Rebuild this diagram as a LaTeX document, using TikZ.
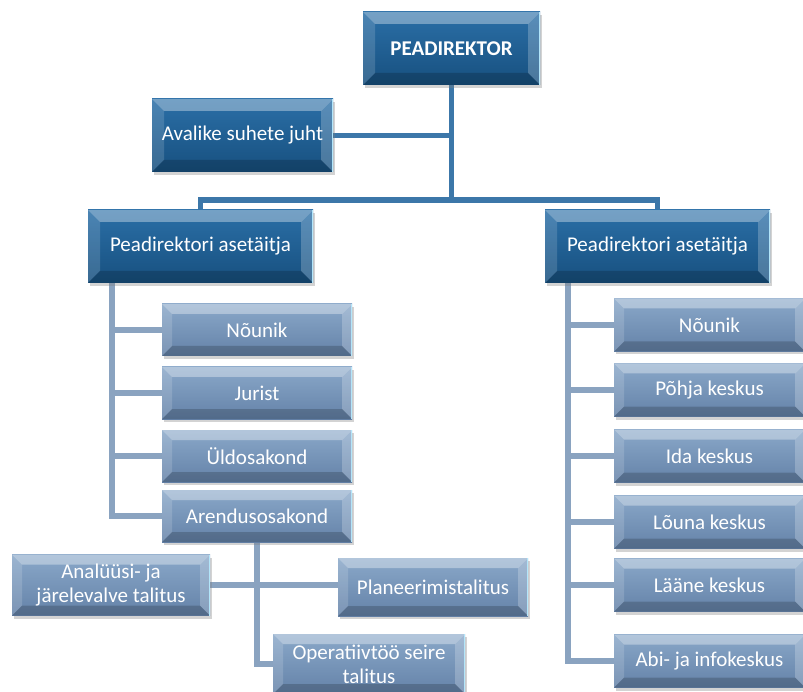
\documentclass[tikz,border=0pt]{standalone}
\usepackage{fontspec}
\setmainfont{Carlito}
\usetikzlibrary{shadows,backgrounds}
\definecolor{dkA}{HTML}{2B6FA7}
\definecolor{dkB}{HTML}{17507F}
\definecolor{ltA}{HTML}{8AA8C9}
\definecolor{ltB}{HTML}{6482A8}
\definecolor{toplinecol}{HTML}{3C77A9}
\definecolor{sublinecol}{HTML}{8AA3C0}
\tikzset{
  bevel/.style={path picture={
    \fill[white,opacity=.35] (path picture bounding box.north west) -- (path picture bounding box.north east) -- ([shift={(-#1,-#1)}]path picture bounding box.north east) -- ([shift={(#1,-#1)}]path picture bounding box.north west) -- cycle;
    \fill[white,opacity=.15] (path picture bounding box.north west) -- (path picture bounding box.south west) -- ([shift={(#1,#1)}]path picture bounding box.south west) -- ([shift={(#1,-#1)}]path picture bounding box.north west) -- cycle;
    \fill[white,opacity=.22] (path picture bounding box.north east) -- (path picture bounding box.south east) -- ([shift={(-#1,#1)}]path picture bounding box.south east) -- ([shift={(-#1,-#1)}]path picture bounding box.north east) -- cycle;
    \fill[black,opacity=.18] (path picture bounding box.south west) -- (path picture bounding box.south east) -- ([shift={(-#1,#1)}]path picture bounding box.south east) -- ([shift={(#1,#1)}]path picture bounding box.south west) -- cycle;
    \draw[white!70!cyan,line width=1.2pt] ([xshift=-0.6pt]path picture bounding box.north east) -- ([xshift=-0.6pt]path picture bounding box.south east);
  }},
  bevelbox/.style={rectangle, inner sep=0pt, align=center, text=white,
    font=\fontsize{21}{24}\selectfont,
    drop shadow={opacity=0.35, shadow xshift=2pt, shadow yshift=-3pt}},
  dk/.style={bevelbox, top color=dkA, bottom color=dkB, bevel=12pt},
  lt/.style={bevelbox, top color=ltA, bottom color=ltB, bevel=10pt},
  tl/.style={draw=toplinecol, line width=5.5pt},
  sl/.style={draw=sublinecol, line width=5.5pt},
}
\begin{document}
\begin{tikzpicture}[x=1pt,y=1pt]
\useasboundingbox (0,0) rectangle (803,-692);
\clip (0,0) rectangle (803,-692);
% top level
\node[dk, minimum width=177pt, minimum height=73pt] (pd) at (451.5,-48.5) {\textbf{PEADIREKTOR}};
\node[dk, minimum width=181pt, minimum height=73pt] (av) at (242.5,-135.5) {Avalike suhete juht};
\node[dk, minimum width=225pt, minimum height=73pt] (la) at (200.5,-246.5) {Peadirektori asetäitja};
\node[dk, minimum width=225pt, minimum height=73pt] (ra) at (657.5,-246.5) {Peadirektori asetäitja};
% left children
\node[lt, minimum width=190pt, minimum height=52pt] (ln) at (257,-330) {Nõunik};
\node[lt, minimum width=190pt, minimum height=52pt] (lj) at (257,-393) {Jurist};
\node[lt, minimum width=190pt, minimum height=52pt] (lu) at (257,-456) {Üldosakond};
\node[lt, minimum width=190pt, minimum height=52pt] (ad) at (257,-516) {Arendusosakond};
\node[lt, minimum width=198pt, minimum height=61pt] (an) at (111,-585) {Analüüsi- ja\\järelevalve talitus};
\node[lt, minimum width=190pt, minimum height=58pt] (pl) at (433,-587) {Planeerimistalitus};
\node[lt, minimum width=192pt, minimum height=60pt] (op) at (369,-664) {Operatiivtöö seire\\talitus};
% right children
\node[lt, minimum width=191pt, minimum height=53pt] (rn) at (709.5,-325) {Nõunik};
\node[lt, minimum width=191pt, minimum height=53pt] (rp) at (709.5,-390) {Põhja keskus};
\node[lt, minimum width=191pt, minimum height=53pt] (ri) at (709.5,-456) {Ida keskus};
\node[lt, minimum width=191pt, minimum height=53pt] (rl) at (709.5,-522) {Lõuna keskus};
\node[lt, minimum width=191pt, minimum height=53pt] (rla) at (709.5,-585) {Lääne keskus};
\node[lt, minimum width=191pt, minimum height=53pt] (rab) at (709.5,-661) {Abi- ja infokeskus};
\begin{pgfonlayer}{background}
\coordinate (j) at (451.5,-200);
\draw[tl] (pd.south) -- (j);
\draw[tl] (av.east) -- (av.east -| j);
\draw[tl] (la.north) |- (j) -| (ra.north);
\coordinate (lv) at ([xshift=24pt]la.south west);
\draw[sl] (lv) |- (ad.west);
\foreach \n in {ln,lj,lu} \draw[sl] (\n.west) -- (\n.west -| lv);
\draw[sl] (ad.south) |- (op.west);
\draw[sl] (an.east) -- (an.east -| pl.west);
\coordinate (rv) at ([xshift=23pt]ra.south west);
\draw[sl] (rv) |- (rab.west);
\foreach \n in {rn,rp,ri,rl,rla} \draw[sl] (\n.west) -- (\n.west -| rv);
\end{pgfonlayer}
\end{tikzpicture}
\end{document}
